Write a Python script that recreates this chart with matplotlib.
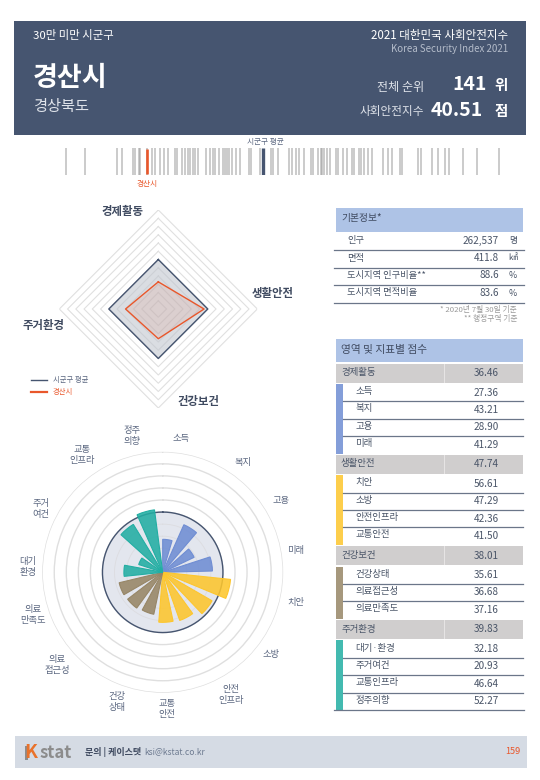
import numpy as np
import matplotlib
matplotlib.use('Agg')
import matplotlib.pyplot as plt
from matplotlib.colors import to_rgba
from matplotlib.patches import Rectangle

plt.rcParams['font.family'] = ['Noto Sans CJK KR', 'DejaVu Sans']

W, H = 540, 780
NAVY = '#465570'
ORANGE = '#e9572b'
TEXT = '#4a5568'

# data
domains = ['경제활동', '생활안전', '건강보건', '주거환경']
domain_scores = [36.46, 47.74, 38.01, 39.83]
domain_avg = [50, 50, 50, 50]
domain_colors = ['#6f8dd3', '#fdc62d', '#978666', '#22aea3']

econ_names = ['소득', '복지', '고용', '미래']
econ_scores = [27.36, 43.21, 28.90, 41.29]
safety_names = ['치안', '소방', '안전인프라', '교통안전']
safety_scores = [56.61, 47.29, 42.36, 41.50]
health_names = ['건강상태', '의료접근성', '의료만족도']
health_scores = [35.61, 36.68, 37.16]
living_names = ['대기·환경', '주거여건', '교통인프라', '정주의향']
living_scores = [32.18, 20.93, 46.64, 52.27]

info_names = ['인구', '면적', '도시지역 인구비율**', '도시지역 면적비율']
info_values = ['262,537', '411.8', '88.6', '83.6']
info_units = ['명', '㎢', '%', '%']

city_score = 40.51
avg_score = 50
other_scores = [33.92, 35.52, 38.12, 38.48, 39.37, 39.60, 39.85, 39.97, 40.51, 40.92,
                41.19, 41.59, 41.94, 42.27, 42.82, 42.98, 43.36, 43.63, 43.91, 44.04,
                44.28, 44.44, 44.71, 45.34, 45.66, 45.91, 46.07, 46.42, 46.75, 46.92,
                47.05, 47.17, 47.43, 47.75, 48.10, 48.84, 49.00, 49.73, 50.60, 50.81,
                51.17, 52.09, 52.36, 52.64, 52.93, 53.31, 53.88, 54.07, 54.48, 54.67,
                54.80, 54.96, 55.16, 55.43, 55.89, 56.05, 56.51, 56.79, 57.19, 57.38,
                57.79, 57.95, 58.19, 58.49, 58.82, 59.76, 60.12, 60.50, 61.12, 61.31,
                62.61, 62.86, 63.70, 64.21, 64.78, 65.09, 66.22, 67.39, 69.20]

rose_labels = ['소득', '복지', '고용', '미래', '치안', '소방', '안전\n인프라', '교통\n안전',
               '건강\n상태', '의료\n접근성', '의료\n만족도', '대기\n환경', '주거\n여건',
               '교통\n인프라', '정주\n의향']

# where the rose labels sit, in pixels
rose_label_xy = [(181, 438), (243, 462), (281, 501), (296, 551), (296, 602), (271, 654),
                 (231, 695), (167, 709), (117, 702), (57, 665), (33, 615), (28, 567),
                 (41, 509), (82, 455), (132, 436)]


def px_axes(x0, y0, x1, y1, **kw):
    return fig.add_axes([x0 / W, 1 - y1 / H, (x1 - x0) / W, (y1 - y0) / H], **kw)


def box(x0, y0, x1, y1, color):
    bg.add_patch(Rectangle((x0, y0), x1 - x0, y1 - y0, facecolor=color, edgecolor='none'))


def txt(x, y, s, size=6.8, color=TEXT, ha='left', weight='normal', **kw):
    bg.text(x, y, s, fontsize=size, color=color, ha=ha, va='center', weight=weight, **kw)


fig = plt.figure(figsize=(W / 100, H / 100), dpi=100)

# page layer in pixel coordinates
bg = px_axes(0, 0, W, H)
bg.set_xlim(0, W)
bg.set_ylim(H, 0)
bg.axis('off')

# header
box(14, 21, 526, 135, NAVY)
txt(33, 36, '30만 미만 시군구', 8.2, 'white')
txt(508, 35, '2021 대한민국 사회안전지수', 8.3, 'white', ha='right')
txt(508, 49, 'Korea Security Index 2021', 7, '#b4bcca', ha='right')
txt(33, 78, '경산시', 19.5, 'white', weight='bold')
txt(33, 107, '경상북도', 11, '#dfe3ea')
txt(424, 87, '전체 순위', 8.7, '#dfe3ea', ha='right')
txt(487, 84, '141', 14, 'white', ha='right', weight='bold')
txt(501, 85, '위', 10.5, 'white', ha='center', weight='bold')
txt(424, 112, '사회안전지수', 8.4, '#dfe3ea', ha='right')
txt(483, 110, '40.51', 14, 'white', ha='right', weight='bold')
txt(501, 111, '점', 10.5, 'white', ha='center', weight='bold')

# barcode strip
strip = px_axes(40, 148, 520, 175)
strip.set_xlim(31.83, 70.89)
strip.set_ylim(0, 1)
strip.axis('off')
strip.vlines(other_scores, 0, 1, color='#999999', alpha=0.55, lw=1.3)
strip.vlines(city_score, 0.03, 0.97, color=ORANGE, lw=1.9)
strip.vlines(avg_score, 0, 1, color=NAVY, lw=2.4)
txt(265, 142, '시군구 평균', 5.5, '#5b6780', ha='center')
txt(147, 184, '경산시', 5.5, ORANGE, ha='center')

# radar
radar = px_axes(59.3, 210, 257.3, 408, projection='polar')
radar.patch.set_alpha(0)
radar.set_theta_zero_location('N')
radar.set_theta_direction(-1)
radar.axis('off')
angles = np.radians([0, 90, 180, 270, 360])
for level in range(25, 81, 5):
    ring = '#efefef' if level < 50 else '#e0e0e0'
    radar.plot(angles, [level] * 5, color=ring, lw=0.8, zorder=1)
radar.fill(angles, domain_avg + domain_avg[:1], color=NAVY, alpha=0.2, lw=0, zorder=2)
radar.plot(angles, domain_avg + domain_avg[:1], color=NAVY, lw=1, zorder=3)
radar.fill(angles, domain_scores + domain_scores[:1], color=ORANGE, alpha=0.1, lw=0, zorder=4)
radar.plot(angles, domain_scores + domain_scores[:1], color=ORANGE, lw=1, zorder=5)
radar.set_ylim(20, 80)

txt(122, 211, domains[0], 8.2, '#3f4a60', ha='center', weight='bold')
txt(273, 294, domains[1], 8.2, '#3f4a60', ha='center', weight='bold')
txt(198, 402, domains[2], 8.2, '#3f4a60', ha='center', weight='bold')
txt(44, 326, domains[3], 8.2, '#3f4a60', ha='center', weight='bold')

bg.plot([31, 47], [380, 380], color=NAVY, lw=1)
bg.plot([31, 47], [392, 392], color=ORANGE, lw=1.6)
txt(53, 380, '시군구 평균', 5.3, '#5b6780')
txt(53, 392, '경산시', 5.3, ORANGE)

# rose chart
rose = px_axes(42.2, 451.8, 283.2, 692.8, projection='polar')
rose.patch.set_alpha(0)
rose.set_theta_zero_location('N')
rose.set_theta_direction(-1)
rose.set_xticks([])
rose.spines['polar'].set_visible(False)
rose.set_axisbelow(True)
full = np.radians(np.arange(0, 361, 2))
rose.fill(full, [avg_score] * len(full), color='#e3e6ee', lw=0, zorder=2)
for level in range(10, 50, 10):
    rose.plot(full, [level] * len(full), color='#dcdce0', lw=0.6, zorder=2.5)
rose.plot(full, [avg_score] * len(full), color=NAVY, lw=1, zorder=3)

all_scores = econ_scores + safety_scores + health_scores + living_scores
bar_colors = ([domain_colors[0]] * 4 + [domain_colors[1]] * 4 +
              [domain_colors[2]] * 3 + [domain_colors[3]] * 4)
for i, (v, c) in enumerate(zip(all_scores, bar_colors)):
    rose.bar(np.radians(i * 24), v, width=np.radians(16.5), align='edge',
             color=to_rgba(c, 0.88), edgecolor=c, lw=0.8, zorder=4)

rose.set_rorigin(0)
rose.set_ylim(0, 100)
rose.set_yticks(range(10, 101, 10))
rose.set_yticklabels([])
rose.grid(color='#dfdfdf', lw=1)

for s, (x, y) in zip(rose_labels, rose_label_xy):
    txt(x, y, s, 6.7, '#5b6780', ha='center', linespacing=1.3)

# basic info table
box(336, 208, 523, 232, '#aec3e6')
txt(341, 218, '기본정보*', 7, '#3f4a60')
for i in range(4):
    y = 240.5 + i * 17.5
    txt(347, y, info_names[i], 6.7)
    txt(499, y, info_values[i], 7.2, ha='right')
    txt(513, y, info_units[i], 6.4, ha='center')
    bg.plot([334, 524], [250 + i * 17.5] * 2, color='#6b7689', lw=0.9)
txt(517, 310, '* 2020년 7월 30일 기준', 5.6, '#9a9a9a', ha='right')
txt(517, 319.5, '** 행정구역 기준', 5.6, '#9a9a9a', ha='right')

# score table
box(336, 339, 523, 362, '#aec3e6')
txt(341, 349.5, '영역 및 지표별 점수', 7.7, '#3f4a60')
groups = [(econ_names, econ_scores), (safety_names, safety_scores),
          (health_names, health_scores), (living_names, living_scores)]
y = 363.5
row_h = 17.4
for k, (names, scores) in enumerate(groups):
    box(336, y, 523, y + 19, '#d0cece')
    box(444, y, 445, y + 19, '#e6e4e4')
    txt(341, y + 9, domains[k], 6.8)
    txt(486.5, y + 9.5, '%.2f' % domain_scores[k], 7.2, ha='center')
    y += 20.5
    bg.add_patch(Rectangle((336, y), 7, row_h * len(names),
                           facecolor=to_rgba(domain_colors[k], 0.85), edgecolor='none'))
    for j, (n, v) in enumerate(zip(names, scores)):
        txt(355, y + 7.5, n, 6.8)
        txt(486.5, y + 8.5, '%.2f' % v, 7.2, ha='center')
        if j < len(names) - 1:
            bg.plot([343, 523], [y + row_h] * 2, color='#6b7689', lw=0.9)
        y += row_h
    y += 1.2
bg.plot([334, 524], [710, 710], color='#6b7689', lw=0.9)

# footer
box(15, 736, 527, 768, '#d5dbe4')
bg.text(24, 753, 'K', fontsize=13.5, color='#e9722b', weight='bold', va='center')
box(24.5, 746, 28, 760, '#8c8c8c')
bg.text(39.5, 753, 'stat', fontsize=12, color='#8c8c8c', weight='bold', va='center')
txt(85, 752, '문의 | 케이스탯', 6.5, '#3f4a60', weight='bold')
txt(144, 752, 'ksi@kstat.co.kr', 6.1, '#6d7a90')
txt(520, 752, '159', 6.6, ORANGE, ha='right')

fig.savefig('out.png', dpi=100)
